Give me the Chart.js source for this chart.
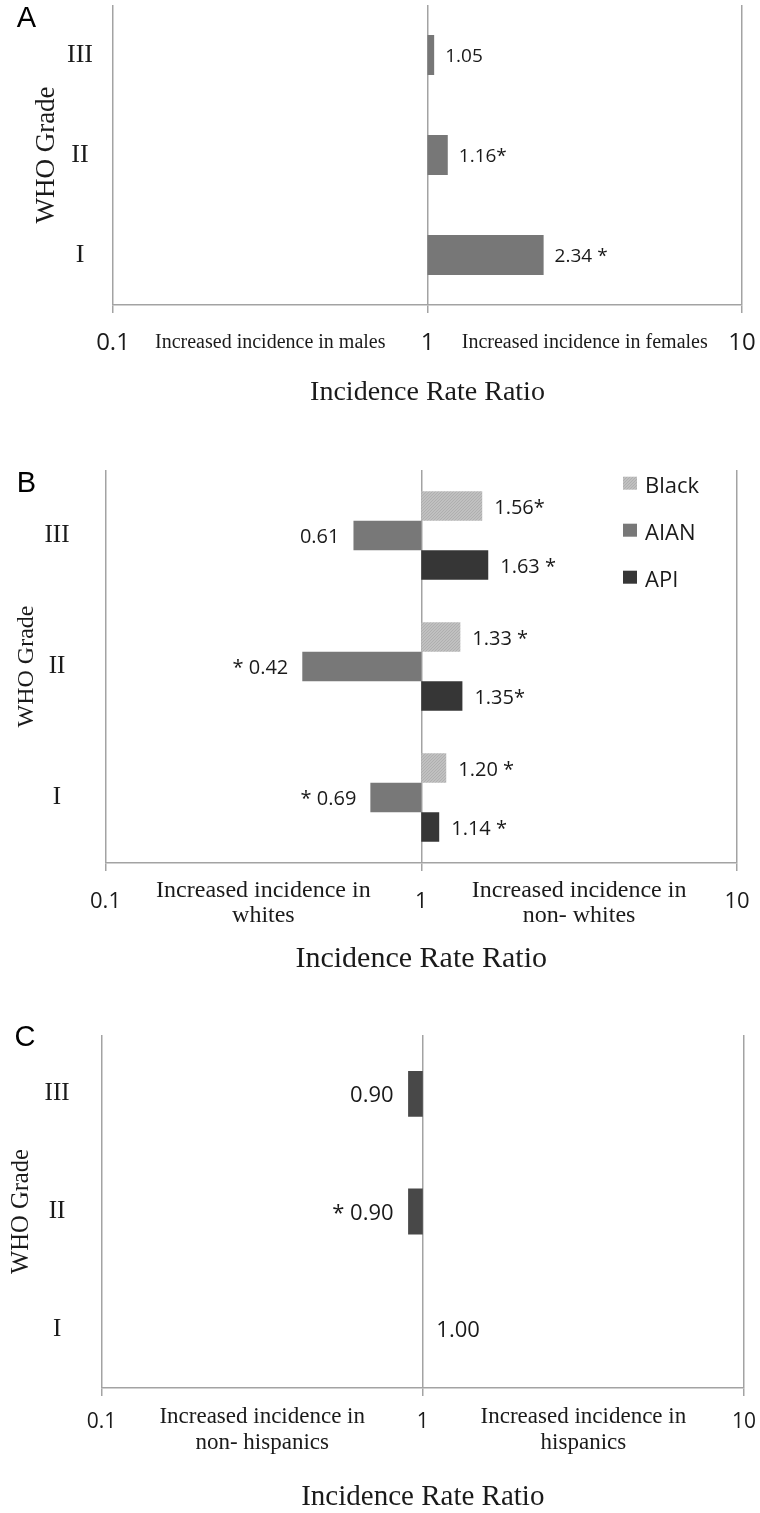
<!DOCTYPE html>
<html><head><meta charset="utf-8">
<script src="https://cdn.jsdelivr.net/npm/chart.js@4.4.1/dist/chart.umd.min.js"></script>
<style>
html,body{margin:0;padding:0;background:#fff;}
body{width:760px;height:1513px;position:relative;overflow:hidden;}
canvas{position:absolute;left:0;}
</style></head><body>
<canvas id="cA" width="760" height="420" style="top:0px"></canvas>
<canvas id="cB" width="760" height="535" style="top:450px"></canvas>
<canvas id="cC" width="760" height="528" style="top:985px"></canvas>
<script>
// ---------- data ----------
const grades = ['III', 'II', 'I'];
const xTickValues = [0.1, 1, 10];
const xTickLabels = ['0.1', '1', '10'];

// Panel A: sex
const sexRatio = [1.05, 1.16, 2.34];
const sexLabels = ['1.05', '1.16*', '2.34 *'];
const sexSides = ['Increased incidence in males', 'Increased incidence in females'];

// Panel B: race
const raceSeries = ['Black', 'AIAN', 'API'];
const blackRatio = [1.56, 1.33, 1.20];
const aianRatio = [0.61, 0.42, 0.69];
const apiRatio = [1.63, 1.35, 1.14];
const blackLabels = ['1.56*', '1.33 *', '1.20 *'];
const aianLabels = ['0.61', '* 0.42', '* 0.69'];
const apiLabels = ['1.63 *', '1.35*', '1.14 *'];
const raceSides = [['Increased incidence in', 'whites'], ['Increased incidence in', 'non- whites']];

// Panel C: ethnicity
const hispRatio = [0.90, 0.90, 1.00];
const hispLabels = ['0.90', '* 0.90', '1.00'];
const hispSides = [['Increased incidence in', 'non- hispanics'], ['Increased incidence in', 'hispanics']];

// ---------- styling ----------
const SERIF = '"Liberation Serif", "Times New Roman", serif';
const SANS = '"Open Sans", "Noto Sans", sans-serif';
const LETTER = '"Liberation Sans", Arial, sans-serif';
const TXT = '#1a1a1a';
const GRID = '#a3a3a3';

const floating = arr => arr.map(v => [1, v]);

function blackPattern(ctx) {
  const c = document.createElement('canvas'); c.width = 3; c.height = 3;
  const g = c.getContext('2d');
  g.fillStyle = '#c0c0c0'; g.fillRect(0, 0, 3, 3);
  g.fillStyle = '#afafaf';
  for (let i = 0; i < 3; i++) g.fillRect(i, 2 - i, 1, 1);
  return ctx.createPattern(c, 'repeat');
}

function decoPlugin(o) {
  return {
    id: 'deco',
    afterDatasetsDraw(chart) {
      const ctx = chart.ctx, xs = chart.scales.x;
      ctx.save();
      ctx.font = o.valueFont; ctx.fillStyle = TXT; ctx.textBaseline = 'middle';
      chart.data.datasets.forEach((ds, di) => {
        const meta = chart.getDatasetMeta(di);
        meta.data.forEach((el, i) => {
          const v = ds.data[i][1];
          const px = xs.getPixelForValue(v);
          const txt = ds.valueLabels[i];
          if (v >= 1) { ctx.textAlign = 'left'; ctx.fillText(txt, px + o.gapR, el.y + o.dy); }
          else { ctx.textAlign = 'right'; ctx.fillText(txt, px - o.gapL, el.y + o.dy); }
        });
      });
      ctx.restore();
    },
    afterDraw(chart) {
      const ctx = chart.ctx, area = chart.chartArea, xs = chart.scales.x;
      ctx.save();
      ctx.textAlign = 'center'; ctx.textBaseline = 'middle';
      ctx.font = o.letterFont; ctx.fillStyle = '#000';
      ctx.fillText(o.letter, o.letterX, o.letterY);
      ctx.font = o.sideFont; ctx.fillStyle = TXT;
      o.sides.forEach((lines, k) => {
        const px = xs.getPixelForValue(Math.sqrt(xTickValues[k] * xTickValues[k + 1]));
        [].concat(lines).forEach((line, j) => {
          ctx.fillText(line, px, area.bottom + o.sideY + j * o.sideLH);
        });
      });
      if (o.legend) {
        const L = o.legend;
        chart.data.datasets.forEach((ds, i) => {
          const y = area.top + L.top + i * L.gap;
          const x0 = area.right - L.fromRight;
          ctx.fillStyle = ds.backgroundColor;
          ctx.fillRect(x0, y - 9, 14, 13);
          ctx.fillStyle = TXT; ctx.textAlign = 'left'; ctx.font = L.font;
          ctx.fillText(ds.label, x0 + 22, y + 1);
        });
      }
      ctx.restore();
    }
  };
}

function makeChart(id, o) {
  const ctx = document.getElementById(id).getContext('2d');
  const datasets = o.makeDatasets(ctx);
  return new Chart(ctx, {
    type: 'bar',
    data: { labels: grades, datasets },
    options: {
      indexAxis: 'y',
      responsive: false,
      animation: false,
      events: [],
      layout: { padding: o.padding },
      datasets: { bar: { categoryPercentage: o.catPct, barPercentage: 1 } },
      plugins: { legend: { display: false }, tooltip: { enabled: false }, title: { display: false } },
      scales: {
        x: {
          type: 'logarithmic', min: 0.1, max: 10, position: 'bottom',
          afterBuildTicks: s => { s.ticks = xTickValues.map(v => ({ value: v })); },
          afterFit: s => { s.height = o.xHeight; s.paddingLeft = 0; s.paddingRight = 0; s.paddingTop = 0; s.paddingBottom = 0; },
          grid: { color: GRID, lineWidth: 1.5, tickLength: 8, drawTicks: true },
          border: { display: true, color: GRID, width: 1.5 },
          ticks: {
            padding: o.xTickPad, color: TXT, maxRotation: 0, autoSkip: false,
            font: { family: SANS, size: o.xTickSize, lineHeight: 1.2 },
            callback: v => { const k = xTickValues.indexOf(v); return k >= 0 ? xTickLabels[k] : ''; }
          },
          title: { display: true, text: 'Incidence Rate Ratio', color: TXT, padding: 0,
                   font: { family: SERIF, size: o.xTitleSize, lineHeight: 1 } }
        },
        y: {
          type: 'category',
          afterFit: s => { s.width = o.yWidth; s.paddingTop = 0; s.paddingBottom = 0; s.paddingLeft = 0; s.paddingRight = 0; },
          grid: { display: false, drawTicks: false, tickLength: 0 },
          border: { display: false },
          ticks: { crossAlign: 'center', padding: o.yTickPad, color: TXT,
                   font: { family: SERIF, size: o.yTickSize, lineHeight: 1.2 } },
          title: { display: true, text: 'WHO Grade', color: TXT, padding: 0,
                   font: { family: SERIF, size: o.yTitleSize, lineHeight: 1 } }
        }
      }
    },
    plugins: [decoPlugin(o)]
  });
}

// Panel A
makeChart('cA', {
  makeDatasets: () => [{ label: 'Female/Male', data: floating(sexRatio), valueLabels: sexLabels, backgroundColor: '#777777' }],
  padding: { left: 33, right: 18, top: 5, bottom: 13 },
  yWidth: 80, xHeight: 102, yTickPad: 20, xTickPad: 15.6,
  yTickSize: 26, yTitleSize: 27, xTitleSize: 28, xTickSize: 24,
  catPct: 0.4,
  valueFont: '19px ' + SANS, gapR: 11, gapL: 14, dy: 2,
  letter: 'A', letterFont: '29px ' + LETTER, letterX: 26.5, letterY: 19,
  sides: sexSides, sideFont: '20px ' + SERIF, sideY: 38, sideLH: 25
});

// Panel B
makeChart('cB', {
  makeDatasets: ctx => [
    { label: raceSeries[0], data: floating(blackRatio), valueLabels: blackLabels, backgroundColor: blackPattern(ctx) },
    { label: raceSeries[1], data: floating(aianRatio), valueLabels: aianLabels, backgroundColor: '#787878' },
    { label: raceSeries[2], data: floating(apiRatio), valueLabels: apiLabels, backgroundColor: '#363636' }
  ],
  padding: { left: 14.6, right: 23, top: 20, bottom: 11 },
  yWidth: 90.9, xHeight: 111, yTickPad: 36, xTickPad: 17.8,
  yTickSize: 25, yTitleSize: 24, xTitleSize: 30, xTickSize: 22,
  catPct: 0.675,
  valueFont: '20px ' + SANS, gapR: 12, gapL: 14, dy: 2,
  letter: 'B', letterFont: '29px ' + LETTER, letterX: 26.5, letterY: 34,
  sides: raceSides, sideFont: '24px ' + SERIF, sideY: 28, sideLH: 25,
  legend: { top: 15.7, gap: 47, fromRight: 114, font: '22px ' + SANS }
});

// Panel C
makeChart('cC', {
  makeDatasets: () => [{ label: 'Hispanic/Non-hispanic', data: floating(hispRatio), valueLabels: hispLabels, backgroundColor: '#484848' }],
  padding: { left: 9.7, right: 16, top: 50, bottom: 1 },
  yWidth: 91.9, xHeight: 124, yTickPad: 32, xTickPad: 13.4,
  yTickSize: 25, yTitleSize: 24.6, xTitleSize: 29, xTickSize: 21,
  catPct: 0.39,
  valueFont: '22px ' + SANS, gapR: 13.5, gapL: 14.5, dy: 2,
  letter: 'C', letterFont: '29px ' + LETTER, letterX: 25, letterY: 52.5,
  sides: hispSides, sideFont: '23px ' + SERIF, sideY: 29, sideLH: 26
});
</script>
</body></html>
